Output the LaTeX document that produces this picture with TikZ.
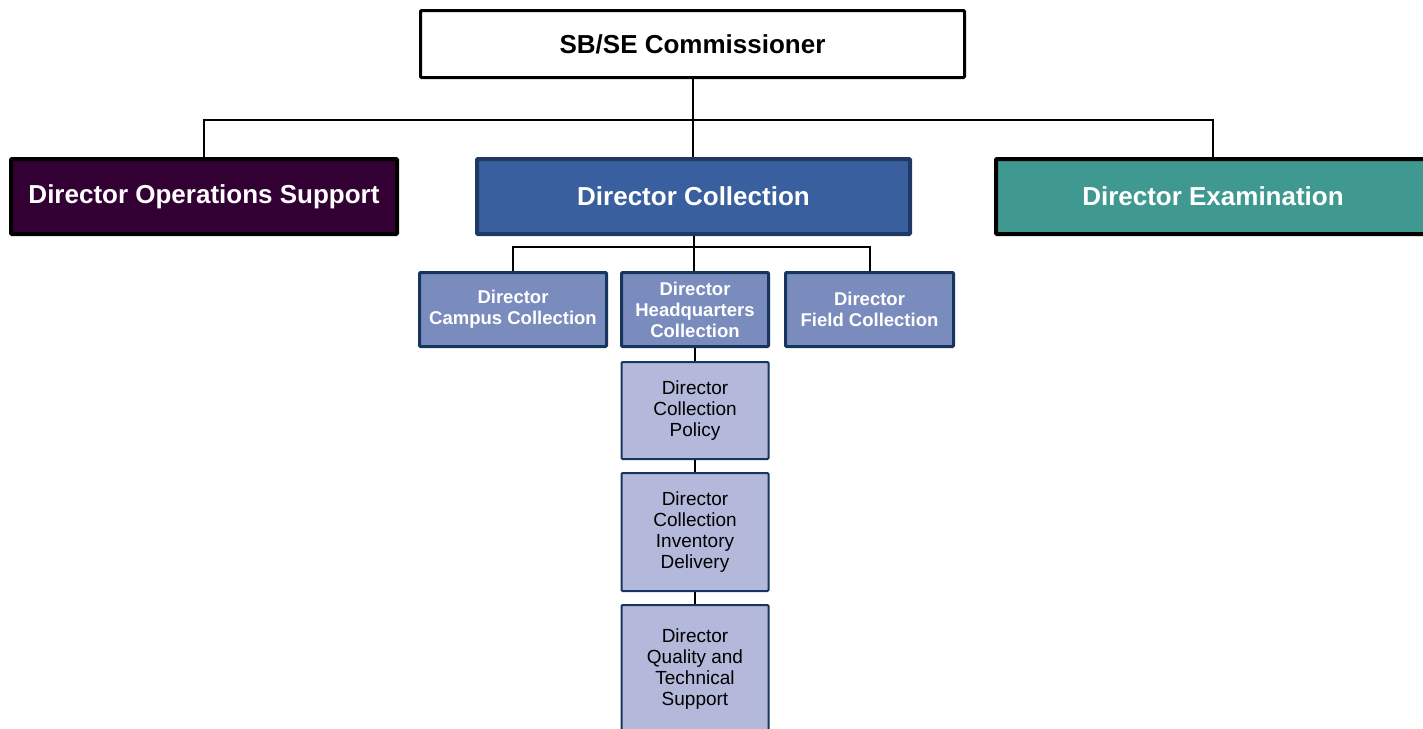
\documentclass[tikz,border=0pt]{standalone}
\usepackage{fontspec}
\setmainfont{Liberation Sans}
\definecolor{opsfill}{HTML}{330033}
\definecolor{collfill}{HTML}{3A5F9E}
\definecolor{collborder}{HTML}{1F3864}
\definecolor{examfill}{HTML}{3F9990}
\definecolor{subfill}{HTML}{7A8BBE}
\definecolor{subborder}{HTML}{17365D}
\definecolor{lowfill}{HTML}{B4B9DB}
\begin{document}
\begin{tikzpicture}[x=1pt,y=-1pt,
  box/.style={draw, rectangle, align=center, inner sep=0pt, rounded corners=1pt},
  topbox/.style={box, line width=4pt, minimum height=75pt, text=white,
    font=\fontsize{26}{30}\selectfont\bfseries},
  subbox/.style={box, line width=3pt, draw=subborder, fill=subfill, minimum height=74pt,
    text=white, font=\fontsize{18.5}{21}\selectfont\bfseries},
  lowbox/.style={box, line width=2pt, draw=subborder, fill=lowfill, minimum width=147pt,
    font=\fontsize{19}{20.8}\selectfont},
  link/.style={line width=2pt}]
\useasboundingbox (0,0) rectangle (1423,728);
\clip (0,0) rectangle (1423,728);

\node [box, line width=3pt, minimum width=544pt, minimum height=67pt,
  font=\fontsize{26}{30}\selectfont\bfseries] (comm) at (692.5,44) {SB/SE Commissioner};

\node [topbox, fill=opsfill, minimum width=386pt] (ops) at (204,196.5) {Director Operations Support};
\node [topbox, fill=collfill, draw=collborder, minimum width=433pt] (coll) at (693.5,196.5) {Director Collection};
\node [topbox, fill=examfill, minimum width=434pt] (exam) at (1213,196.5) {Director Examination};

\node [subbox, minimum width=187pt] (campus) at (513,309.5) {Director\\Campus Collection};
\node [subbox, minimum width=147pt] (hq) at (695,309.5) {Director\\Headquarters\\Collection};
\node [subbox, minimum width=168pt] (field) at (869.5,309.5) {Director\\Field Collection};

\node [lowbox, minimum height=97pt] (policy) at (695,410.5) {Director\\Collection\\Policy};
\node [lowbox, minimum height=118pt] (inventory) at (695,532) {Director\\Collection\\Inventory\\Delivery};
\node [lowbox, minimum height=128pt] (quality) at (695,669) {Director\\Quality and\\Technical\\Support};

% connectors
\draw [link] (ops.north) |- (comm.south |- 0,120) -| (exam.north);
\draw [link] (comm.south) -- (comm.south |- coll.north);
\draw [link] (campus.north) |- (coll.south |- 0,247) -| (field.north);
\draw [link] (coll.south) -- (coll.south |- hq.north);
\draw [link] (hq.south) -- (policy.north);
\draw [link] (policy.south) -- (inventory.north);
\draw [link] (inventory.south) -- (quality.north);
\end{tikzpicture}
\end{document}
